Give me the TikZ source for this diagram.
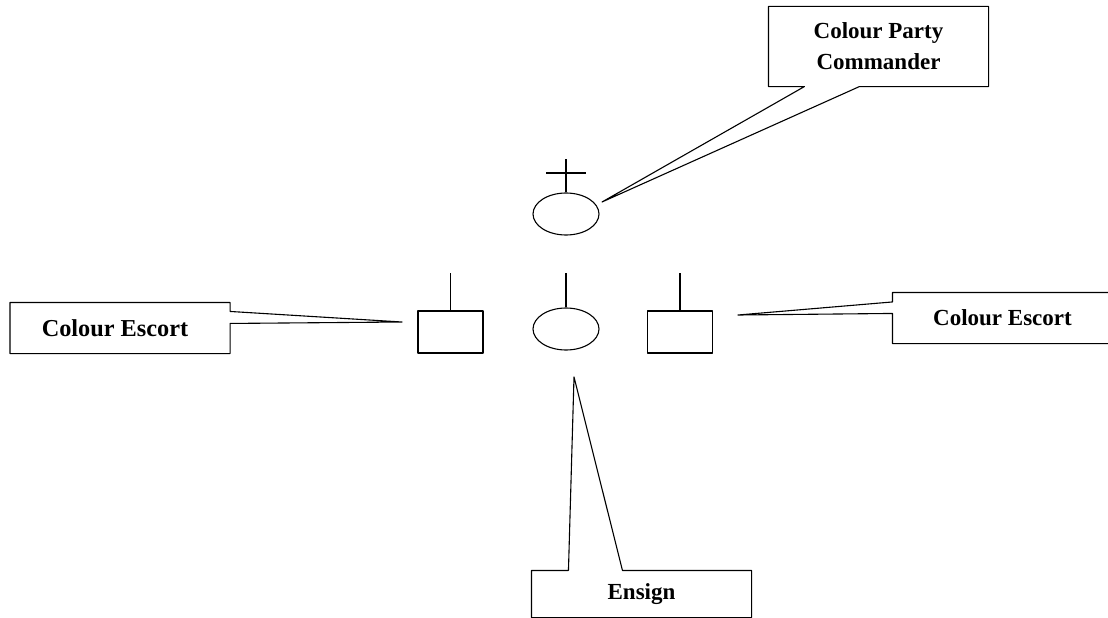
\documentclass[tikz,border=0pt]{standalone}
\usepackage{fontspec}
\setmainfont{Liberation Serif}
\usetikzlibrary{shapes.geometric}

\begin{document}
\begin{tikzpicture}[
            x = 1pt, y = -1pt, % one unit per pixel, y downwards
            line width = 1.1pt, % line style
            line join = round,
            inner sep = 0pt
        ]

        \tikzstyle{person}=[
            draw = black,
            ellipse,
            minimum width = 66pt,
            minimum height = 42pt
        ]
        \tikzstyle{escort}=[
            draw = black,
            rectangle,
            minimum width = 65pt,
            minimum height = 42pt
        ]
        \tikzstyle{calltext}=[
            font = \fontsize{23}{31}\selectfont\bfseries,
            align = center,
            minimum width = 219pt
        ]

        \path[use as bounding box, clip] (0,0) rectangle (1108,618);

        % the colour party
        \node[person] (cdr) at (566,214) {};
        \node[person] (ensign) at (566,329) {};
        \node[escort] (lescort) at (450.5,332) {};
        \node[escort] (rescort) at (680,332) {};

        \draw (cdr.north) -- ++(0,-33);
        \draw (546,173) -- (586,173);
        \draw (ensign.north) -- ++(0,-34);
        \draw (lescort.north) -- ++(0,-37);
        \draw (rescort.north) -- ++(0,-37);

        % callouts
        \node[calltext, minimum height = 79pt] (cdrbox) at (878.5,46.5) {Colour Party\\Commander};
        \node[calltext, minimum height = 50pt, font = \fontsize{24.3}{31}\selectfont\bfseries] (lbox) at (120,328) {Colour Escort\hspace*{10pt}};
        \node[calltext, minimum height = 50pt] (rbox) at (1002.5,318) {Colour Escort};
        \node[calltext, minimum height = 46pt] (ensbox) at (641.5,594) {Ensign};

        \coordinate (cdrtip) at (602,202);
        \coordinate (ltip) at (402,322);
        \coordinate (rtip) at (738,315);
        \coordinate (enstip) at (574,377);

        \draw (cdrbox.south west) -- (cdrbox.north west) -- (cdrbox.north east)
            -- (cdrbox.south east) -- ([xshift=91pt]cdrbox.south west) -- (cdrtip)
            -- ([xshift=36pt]cdrbox.south west) -- cycle;
        \draw (lbox.north west) -- (lbox.north east) -- ([yshift=-9pt]lbox.north east)
            -- (ltip) -- ([yshift=-21pt]lbox.north east) -- (lbox.south east)
            -- (lbox.south west) -- cycle;
        \draw (rbox.north east) -- (rbox.north west) -- ([yshift=-9.5pt]rbox.north west)
            -- (rtip) -- ([yshift=-21pt]rbox.north west) -- (rbox.south west)
            -- (rbox.south east) -- cycle;
        \draw (ensbox.north west) -- ([xshift=37pt]ensbox.north west) -- (enstip)
            -- ([xshift=91pt]ensbox.north west) -- (ensbox.north east)
            -- (ensbox.south east) -- (ensbox.south west) -- cycle;

        %\draw[red] (0,0) rectangle (1108,618);
    \end{tikzpicture}
\end{document}
